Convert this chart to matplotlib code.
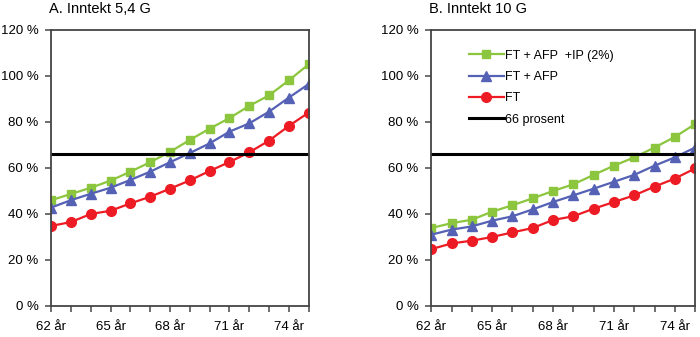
import numpy as np
import matplotlib
matplotlib.use('Agg')
import matplotlib.pyplot as plt

plt.rcParams['font.family'] = ['Liberation Sans', 'DejaVu Sans']

# ages 62..75
ages = list(range(62, 76))
tick_ages = [62, 65, 68, 71, 74]
tick_labels = ['62 år', '65 år', '68 år', '71 år', '74 år']

# panel A, inntekt 5,4 G
a_ft_afp_ip = [46, 48.7, 51.4, 54.5, 58.4, 62.5, 67, 72.2, 77.1, 81.7, 87, 91.6, 98.1, 105.1]
a_ft_afp = [42.8, 46, 48.8, 51.4, 54.8, 58.4, 62.5, 66.5, 70.7, 75.8, 79.4, 84.5, 90.6, 96.5]
a_ft = [34.8, 36.5, 40, 41.4, 44.6, 47.5, 51, 54.6, 58.7, 62.6, 66.8, 71.9, 78.3, 84.1]

# panel B, inntekt 10 G
b_ft_afp_ip = [33.9, 36, 37.5, 41, 43.8, 46.8, 50, 52.9, 57, 61, 64.6, 68.9, 73.5, 79.1]
b_ft_afp = [31, 33.2, 34.6, 37.1, 39, 42, 45.2, 48.1, 51, 54, 57, 61, 64.6, 68.9]
b_ft = [24.7, 27.2, 28.4, 30, 32, 33.9, 37.4, 39, 42.3, 45.2, 48.1, 51.9, 55.4, 59.8]

target = 66

green = '#8cc63e'
blue = '#5561b4'
red = '#ed1c24'

fig = plt.figure(figsize=(7, 3.37), dpi=100)
axA = fig.add_axes([0.073, 0.092, 0.368, 0.819])
axB = fig.add_axes([0.616, 0.092, 0.377, 0.819])


def draw_panel(ax, s1, s2, s3, title):
    ax.plot(ages, s1, color=green, marker='s', markersize=6, lw=1.6,
            label='FT + AFP  +IP (2%)')
    ax.plot(ages, s2, color=blue, marker='^', markersize=7, lw=1.6,
            label='FT + AFP')
    ax.plot(ages, s3, color=red, marker='o', markersize=7, lw=1.6,
            label='FT')
    ax.axhline(target, color='black', lw=2.2, label='66 prosent')
    ax.set_xlim(62, 75)
    ax.set_ylim(0, 120)
    ax.set_xticks(tick_ages)
    ax.set_xticklabels(tick_labels)
    ax.set_xticks(ages, minor=True)
    ax.set_yticks(range(0, 121, 20))
    ax.set_yticklabels(['%d %%' % v for v in range(0, 121, 20)])
    ax.tick_params(direction='out', length=4, width=1.2, color='#555555',
                   labelsize=9.5)
    ax.tick_params(axis='y', pad=5)
    ax.tick_params(axis='x', pad=7)
    ax.tick_params(axis='x', which='minor', direction='out', length=4,
                   width=1.2, color='#555555')
    for s in ax.spines.values():
        s.set_color('#444444')
        s.set_linewidth(1.3)
    ax.set_title(title, loc='left', fontsize=10.5, x=-0.01, pad=12)


draw_panel(axA, a_ft_afp_ip, a_ft_afp, a_ft, 'A. Inntekt 5,4 G')
draw_panel(axB, b_ft_afp_ip, b_ft_afp, b_ft, 'B. Inntekt 10 G')

axB.legend(loc='upper left', bbox_to_anchor=(0.1, 0.97), frameon=False,
           fontsize=9, handlelength=2.8, handletextpad=0.1, labelspacing=0.75)

plt.savefig('out.png', dpi=100)
